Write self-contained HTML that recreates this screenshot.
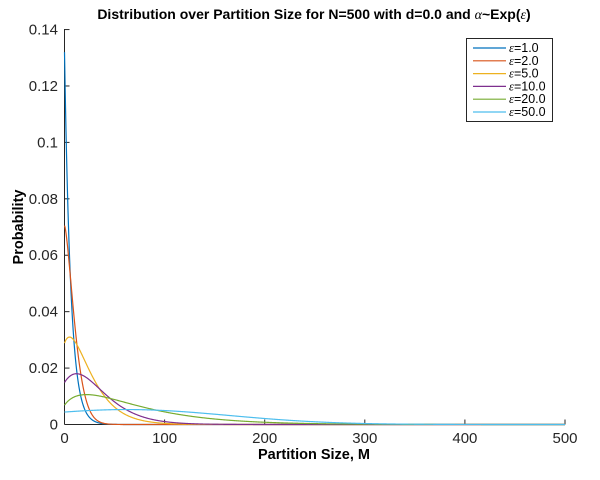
<!DOCTYPE html>
<html><head><meta charset="utf-8"><style>
body{margin:0;background:#fff}
svg{display:block;font-family:"Liberation Sans",sans-serif}
</style></head><body>
<svg id="s" width="600" height="480" viewBox="0 0 600 480" xmlns="http://www.w3.org/2000/svg">
<rect width="600" height="480" fill="#fff"/>
<text x="314" y="19" text-anchor="middle" font-size="14" font-weight="bold" fill="#000">Distribution over Partition Size for N=500 with d=0.0 and <tspan font-family="Liberation Serif" font-style="italic" font-weight="normal">α</tspan>~Exp(<tspan font-family="Liberation Serif" font-style="italic" font-weight="normal">ε</tspan>)</text>
<g stroke="#262626" stroke-width="1" fill="none">
<line x1="64.5" y1="29" x2="64.5" y2="424.5"/>
<line x1="64.5" y1="424.5" x2="565" y2="424.5"/>
</g>
<g id="ticks" stroke="#262626" stroke-width="1"></g>
<g id="labels" font-size="15" fill="#262626"></g>
<g id="curves" fill="none" stroke-width="1.2"></g>
<text x="314" y="459" text-anchor="middle" font-size="14.5" font-weight="bold" fill="#000">Partition Size, M</text>
<text transform="translate(23,227) rotate(-90)" text-anchor="middle" font-size="14.5" font-weight="bold" fill="#000">Probability</text>
<rect x="466.5" y="38.5" width="86" height="83" fill="#fff" stroke="#262626" stroke-width="1"/>
<g id="leg" font-size="12.5" fill="#000"></g>
</svg>
<script>
var NS="http://www.w3.org/2000/svg";
function el(p,t,a,txt){var e=document.createElementNS(NS,t);for(var k in a)e.setAttribute(k,a[k]);if(txt!==undefined)e.textContent=txt;document.getElementById(p).appendChild(e);return e;}
function X(x){return 64.5+x*1.001;}
function Y(y){return 424.5-y*2821;}
for(var i=0;i<=7;i++){var v=i*0.02,y=Y(v);
 el("ticks","line",{x1:64.5,y1:y,x2:69.5,y2:y});
 var s=i==0?"0":(i==5?"0.1":v.toFixed(2));
 el("labels","text",{x:58,y:y+5,"text-anchor":"end"},s);}
for(var i=0;i<=5;i++){var x=X(i*100);
 el("ticks","line",{x1:x,y1:424.5,x2:x,y2:419.5});
 el("labels","text",{x:x,y:443,"text-anchor":"middle"},String(i*100));}
function gam(A,p,c,k){return function(x){var u=(x+c)/(p+c);return A*Math.pow(u*Math.exp(1-u),k);};}
var fs=[
 ["#0072BD",function(x){return 0.132*Math.exp(-x/6.3);}],
 ["#D95319",function(x){return 0.0705*Math.exp(-Math.pow(x/13.2,1.5));}],
 ["#EDB120",gam(0.031,5,10,1)],
 ["#7E2F8E",gam(0.018,12,20,2)],
 ["#77AC30",gam(0.0106,22,6.25,0.6)],
 ["#4DBEEE",function(x){return 0.0053*Math.exp(-Math.pow((x-62)/102,2)/2);}]
];
var names=["1.0","2.0","5.0","10.0","20.0","50.0"];
fs.forEach(function(f,j){var d="";
 for(var x=0;x<=500;x+=0.5){var y=f[1](x);d+=(x==0?"M":"L")+X(x).toFixed(2)+" "+Y(y).toFixed(2);}
 el("curves","path",{d:d,stroke:f[0]});
 var ly=48+j*12.8;
 el("leg","line",{x1:473,y1:ly,x2:506,y2:ly,stroke:f[0],"stroke-width":1.2});
 var t=el("leg","text",{x:509,y:ly+4});
 var a=document.createElementNS(NS,"tspan");a.setAttribute("font-family","Liberation Serif");a.setAttribute("font-style","italic");a.textContent="ε";t.appendChild(a);
 var b=document.createElementNS(NS,"tspan");b.textContent="="+names[j];t.appendChild(b);
});
</script>
</body></html>
